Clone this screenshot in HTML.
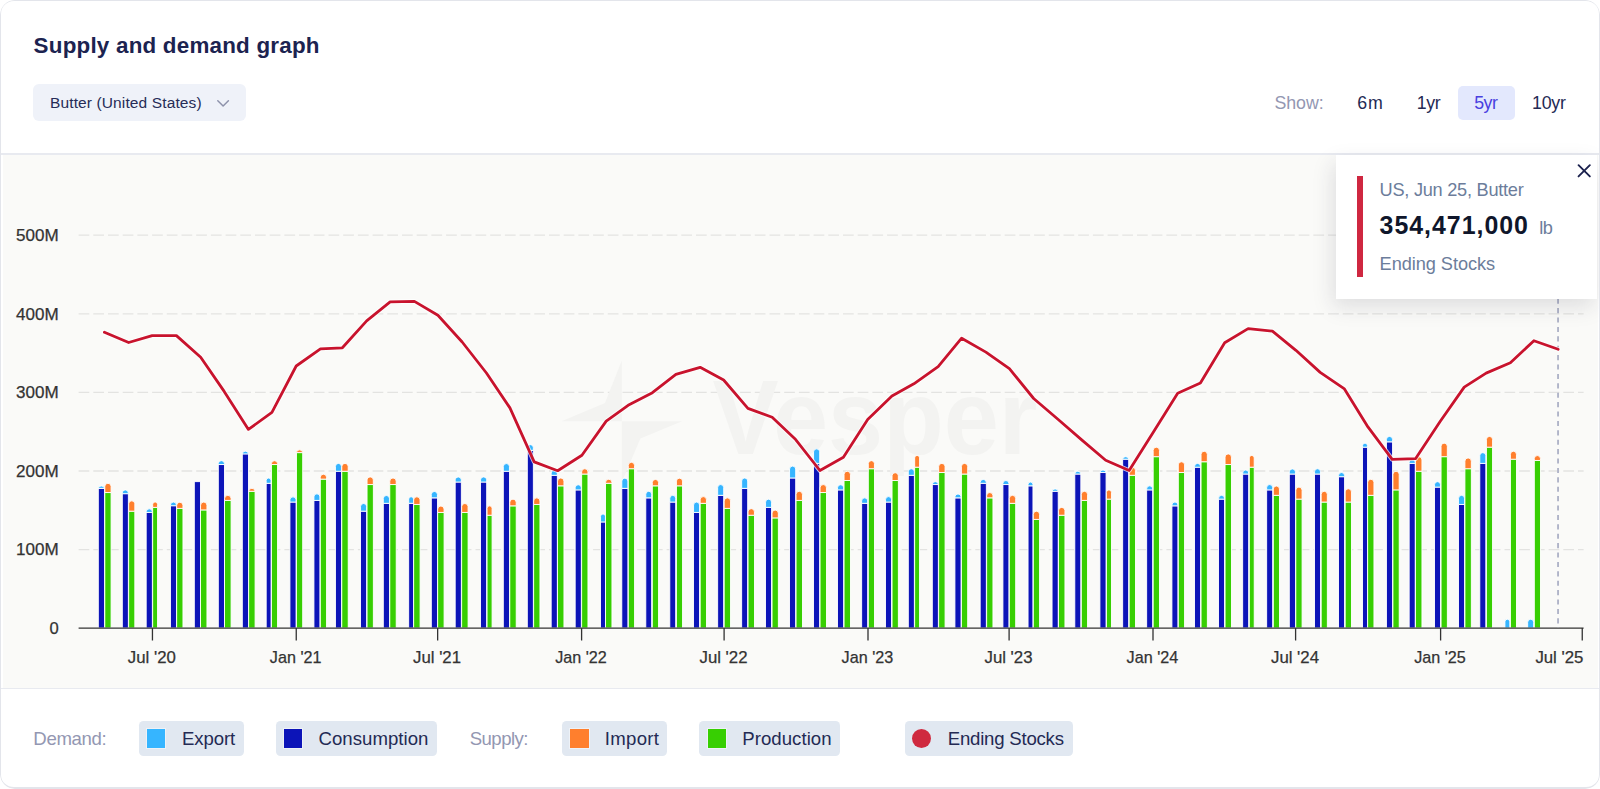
<!DOCTYPE html>
<html lang="en">
<head>
<meta charset="utf-8">
<title>Supply and demand graph</title>
<style>
*{box-sizing:border-box;margin:0;padding:0}
html,body{width:1600px;height:789px;background:#fff;overflow:hidden}
body{font-family:"Liberation Sans",sans-serif;position:relative}
.card{position:absolute;left:0;top:0;width:1600px;height:789px;border-radius:15px;background:#fff;overflow:hidden}
.cardborder{position:absolute;left:0;top:0;width:1600px;height:789px;border:1.2px solid #e3e5eb;border-top-width:1.5px;border-bottom-width:2px;border-radius:14px;pointer-events:none}
.abs{position:absolute}
.t{position:absolute;white-space:nowrap;line-height:normal}
.hdrline{position:absolute;left:0;top:153px;width:1600px;height:1.6px;background:#e8eaf0}
.chartbg{position:absolute;left:3px;top:155px;width:1595px;height:533px;background:#fafaf8}
.ftline{position:absolute;left:0;top:687.6px;width:1600px;height:1.5px;background:#e8eaf0}
.dd{position:absolute;left:33.2px;top:84.4px;width:212.8px;height:36.6px;border-radius:6px;background:#eff2f9}
.range-active{position:absolute;left:1457.6px;top:85.5px;width:57px;height:34px;border-radius:5px;background:#e3e8fd}
.chip{position:absolute;top:721.1px;height:34.6px;border-radius:4.5px;background:#e1e8f1}
.sw{position:absolute;top:729px;width:18.6px;height:18.6px;box-shadow:0 0 0 1px rgba(255,255,255,.45)}
.sw.dot{border-radius:50%;width:19px;height:19px;top:728.8px;box-shadow:none}
.tip{position:absolute;left:1336.3px;top:155px;width:260.7px;height:143.6px;background:#fff;box-shadow:-3px 8px 20px rgba(40,40,60,.13)}
.tipbar{position:absolute;left:1357.4px;top:176px;width:5.4px;height:101.2px;background:#cf2740}
svg{position:absolute;left:0;top:0}
</style>
</head>
<body>
<div class="card">
  <div class="header">
    <div class="dd"></div>
    <svg width="1600" height="153" viewBox="0 0 1600 153"><path d="M217.8 100.8 L223.1 106 L228.4 100.8" fill="none" stroke="#8d92ab" stroke-width="1.5" stroke-linecap="round" stroke-linejoin="round"/></svg>
    <div class="range-active"></div>
<span class="t " style="left:33.6px;top:33px;font-size:22.4px;letter-spacing:0.215px;color:#1c2350;font-weight:700;">Supply and demand graph</span>
<span class="t " style="left:50px;top:94px;font-size:15.5px;letter-spacing:0.122px;color:#262c57;">Butter (United States)</span>
<span class="t " style="left:1274.4px;top:93px;font-size:17.8px;letter-spacing:-0.043px;color:#9397b2;">Show:</span>
<span class="t " style="left:1357.3px;top:93px;font-size:17.8px;letter-spacing:0.772px;color:#242a54;">6m</span>
<span class="t " style="left:1416.8px;top:93px;font-size:17.8px;letter-spacing:-0.464px;color:#242a54;">1yr</span>
<span class="t " style="left:1474.2px;top:93px;font-size:17.8px;letter-spacing:-0.464px;color:#4a3fe0;">5yr</span>
<span class="t " style="left:1532px;top:93px;font-size:17.8px;letter-spacing:-0.209px;color:#242a54;">10yr</span>
  </div>
  <div class="hdrline"></div>
  <div class="chartbg"></div>
  <svg class="chart" width="1600" height="789" viewBox="0 0 1600 789">
<line x1="78.6" x2="1583.6" y1="549.6" y2="549.6" stroke="#e3e3e1" stroke-width="1.3" stroke-dasharray="10.7 4"/>
<line x1="78.6" x2="1583.6" y1="471" y2="471" stroke="#e3e3e1" stroke-width="1.3" stroke-dasharray="10.7 4"/>
<line x1="78.6" x2="1583.6" y1="392.4" y2="392.4" stroke="#e3e3e1" stroke-width="1.3" stroke-dasharray="10.7 4"/>
<line x1="78.6" x2="1583.6" y1="313.8" y2="313.8" stroke="#e3e3e1" stroke-width="1.3" stroke-dasharray="10.7 4"/>
<line x1="78.6" x2="1583.6" y1="235.2" y2="235.2" stroke="#e3e3e1" stroke-width="1.3" stroke-dasharray="10.7 4"/>
<g fill="#f3f3f1"><path d="M621.8 360.4 L621.8 421.2 L561.5 421.2 L605 403 Z"/><path d="M621.8 421.2 L682.1 421.2 L640.4 438.4 L621.8 482 Z"/><text x="712.4" y="453.5" font-family="'Liberation Sans', sans-serif" font-weight="700" font-size="105" textLength="325" lengthAdjust="spacingAndGlyphs">Vesper</text></g>
<g fill="#0c14b8" stroke="#ffffff" stroke-width="0.9"><rect x="98.3" y="488.37" width="6.15" height="139.63"/><rect x="122.3" y="493.69" width="6.03" height="134.31"/><rect x="146.18" y="512.45" width="6.15" height="115.55"/><rect x="170.43" y="505.73" width="6.03" height="122.27"/><rect x="194.3" y="481.65" width="6.15" height="146.35"/><rect x="218.3" y="464.54" width="6.15" height="163.46"/><rect x="242.3" y="453.89" width="6.15" height="174.11"/><rect x="266.18" y="483.3" width="4.9" height="144.7"/><rect x="289.93" y="502.05" width="6.15" height="125.95"/><rect x="313.93" y="500.41" width="6.03" height="127.59"/><rect x="335.43" y="471.26" width="6.03" height="156.74"/><rect x="360.55" y="511.18" width="6.15" height="116.82"/><rect x="383.3" y="503.32" width="6.15" height="124.68"/><rect x="408.68" y="503.32" width="4.9" height="124.68"/><rect x="431.3" y="497.87" width="6.15" height="130.13"/><rect x="455.18" y="482.03" width="6.15" height="145.97"/><rect x="480.55" y="482.03" width="6.15" height="145.97"/><rect x="503.3" y="471.26" width="6.15" height="156.74"/><rect x="527.3" y="450.34" width="6.03" height="177.66"/><rect x="551.17" y="475.31" width="6.15" height="152.69"/><rect x="575.17" y="489.89" width="6.15" height="138.11"/><rect x="600.55" y="521.95" width="4.9" height="106.05"/><rect x="621.8" y="488.37" width="6.15" height="139.63"/><rect x="645.8" y="497.87" width="5.9" height="130.13"/><rect x="669.8" y="502.05" width="5.9" height="125.95"/><rect x="693.55" y="512.45" width="6.03" height="115.55"/><rect x="717.67" y="495.34" width="6.03" height="132.66"/><rect x="741.67" y="488.37" width="6.03" height="139.63"/><rect x="765.55" y="507.38" width="6.03" height="120.62"/><rect x="789.55" y="477.97" width="6.15" height="150.03"/><rect x="813.55" y="463.4" width="6.15" height="164.6"/><rect x="837.55" y="489.89" width="6.15" height="138.11"/><rect x="861.67" y="503.32" width="6.03" height="124.68"/><rect x="885.55" y="502.05" width="6.03" height="125.95"/><rect x="908.3" y="475.31" width="6.03" height="152.69"/><rect x="932.3" y="484.56" width="6.03" height="143.44"/><rect x="954.92" y="497.87" width="6.15" height="130.13"/><rect x="980.17" y="483.3" width="6.15" height="144.7"/><rect x="1002.92" y="484.56" width="6.03" height="143.44"/><rect x="1028.05" y="485.83" width="4.9" height="142.17"/><rect x="1052.05" y="491.28" width="6.15" height="136.72"/><rect x="1074.8" y="474.04" width="6.03" height="153.96"/><rect x="1099.92" y="472.52" width="6.15" height="155.48"/><rect x="1122.67" y="459.21" width="6.03" height="168.79"/><rect x="1146.67" y="489.89" width="6.03" height="138.11"/><rect x="1171.92" y="505.86" width="6.03" height="122.14"/><rect x="1194.55" y="467.2" width="6.03" height="160.8"/><rect x="1218.55" y="499.14" width="6.03" height="128.86"/><rect x="1242.67" y="474.04" width="6.03" height="153.96"/><rect x="1266.67" y="489.89" width="6.03" height="138.11"/><rect x="1289.3" y="474.04" width="6.15" height="153.96"/><rect x="1314.55" y="474.04" width="5.9" height="153.96"/><rect x="1338.55" y="476.71" width="6.03" height="151.29"/><rect x="1362.55" y="447.17" width="4.9" height="180.83"/><rect x="1386.42" y="441.85" width="6.15" height="186.15"/><rect x="1409.17" y="463.4" width="6.03" height="164.6"/><rect x="1434.55" y="487.1" width="5.9" height="140.9"/><rect x="1458.55" y="504.46" width="6.03" height="123.54"/><rect x="1479.8" y="463.4" width="6.03" height="164.6"/></g>
<g fill="#36b5ff" stroke="#ffffff" stroke-width="0.9"><path d="M98.3 488.37A3.08 2.53 0 0 1 104.45 488.37Z"/><path d="M122.3 493.69V492.9A3.01 3.01 0 0 1 128.32 492.9V493.69Z"/><path d="M146.18 512.45V511.72A3.08 3.08 0 0 1 152.33 511.72V512.45Z"/><path d="M170.43 505.73V505.07A3.01 3.01 0 0 1 176.45 505.07V505.73Z"/><path d="M218.3 464.54V463.56A3.08 3.08 0 0 1 224.45 463.56V464.54Z"/><path d="M242.3 453.89A3.08 2.92 0 0 1 248.45 453.89Z"/><path d="M266.18 483.3V480.3A2.45 2.45 0 0 1 271.07 480.3V483.3Z"/><path d="M289.93 502.05V499.68A3.08 3.08 0 0 1 296.07 499.68V502.05Z"/><path d="M313.93 500.41V496.83A3.01 3.01 0 0 1 319.95 496.83V500.41Z"/><path d="M335.43 471.26V466.41A3.01 3.01 0 0 1 341.45 466.41V471.26Z"/><path d="M360.55 511.18V506.4A3.08 3.08 0 0 1 366.7 506.4V511.18Z"/><path d="M383.3 503.32V498.41A3.08 3.08 0 0 1 389.45 498.41V503.32Z"/><path d="M408.68 503.32V499.05A2.45 2.45 0 0 1 413.57 499.05V503.32Z"/><path d="M431.3 497.87V494.36A3.08 3.08 0 0 1 437.45 494.36V497.87Z"/><path d="M455.18 482.03V479.78A3.08 3.08 0 0 1 461.32 479.78V482.03Z"/><path d="M480.55 482.03V479.78A3.08 3.08 0 0 1 486.7 479.78V482.03Z"/><path d="M503.3 471.26V466.47A3.08 3.08 0 0 1 509.45 466.47V471.26Z"/><path d="M527.3 450.34V447.65A3.01 3.01 0 0 1 533.32 447.65V450.34Z"/><path d="M551.17 475.31V473.06A3.08 3.08 0 0 1 557.32 473.06V475.31Z"/><path d="M575.17 489.89V487.64A3.08 3.08 0 0 1 581.32 487.64V489.89Z"/><path d="M600.55 521.95V516.42A2.45 2.45 0 0 1 605.45 516.42V521.95Z"/><path d="M621.8 488.37V481.05A3.08 3.08 0 0 1 627.95 481.05V488.37Z"/><path d="M645.8 497.87V494.23A2.95 2.95 0 0 1 651.7 494.23V497.87Z"/><path d="M669.8 502.05V498.29A2.95 2.95 0 0 1 675.7 498.29V502.05Z"/><path d="M693.55 512.45V505.07A3.01 3.01 0 0 1 699.57 505.07V512.45Z"/><path d="M717.67 495.34V487.58A3.01 3.01 0 0 1 723.7 487.58V495.34Z"/><path d="M741.67 488.37V480.99A3.01 3.01 0 0 1 747.7 480.99V488.37Z"/><path d="M765.55 507.38V502.15A3.01 3.01 0 0 1 771.57 502.15V507.38Z"/><path d="M789.55 477.97V469.01A3.08 3.08 0 0 1 795.7 469.01V477.97Z"/><path d="M813.55 463.4V451.77A3.08 3.08 0 0 1 819.7 451.77V463.4Z"/><path d="M837.55 489.89V487.64A3.08 3.08 0 0 1 843.7 487.64V489.89Z"/><path d="M861.67 503.32V500.88A3.01 3.01 0 0 1 867.7 500.88V503.32Z"/><path d="M885.55 502.05V499.62A3.01 3.01 0 0 1 891.57 499.62V502.05Z"/><path d="M908.3 475.31V471.73A3.01 3.01 0 0 1 914.32 471.73V475.31Z"/><path d="M932.3 484.56A3.01 2.92 0 0 1 938.32 484.56Z"/><path d="M954.92 497.87V496.89A3.08 3.08 0 0 1 961.07 496.89V497.87Z"/><path d="M980.17 483.3V482.32A3.08 3.08 0 0 1 986.32 482.32V483.3Z"/><path d="M1002.92 484.56V483.52A3.01 3.01 0 0 1 1008.95 483.52V484.56Z"/><path d="M1028.05 485.83V484.48A2.45 2.45 0 0 1 1032.95 484.48V485.83Z"/><path d="M1052.05 491.28A3.08 2.53 0 0 1 1058.2 491.28Z"/><path d="M1074.8 474.04A3.01 2.79 0 0 1 1080.83 474.04Z"/><path d="M1099.92 472.52A3.08 2.53 0 0 1 1106.08 472.52Z"/><path d="M1122.67 459.21A3.01 2.53 0 0 1 1128.7 459.21Z"/><path d="M1146.67 489.89V488.84A3.01 3.01 0 0 1 1152.7 488.84V489.89Z"/><path d="M1171.92 505.86V505.07A3.01 3.01 0 0 1 1177.95 505.07V505.86Z"/><path d="M1194.55 467.2V466.41A3.01 3.01 0 0 1 1200.58 466.41V467.2Z"/><path d="M1218.55 499.14V498.35A3.01 3.01 0 0 1 1224.58 498.35V499.14Z"/><path d="M1242.67 474.04V473A3.01 3.01 0 0 1 1248.7 473V474.04Z"/><path d="M1266.67 489.89V487.58A3.01 3.01 0 0 1 1272.7 487.58V489.89Z"/><path d="M1289.3 474.04V471.8A3.08 3.08 0 0 1 1295.45 471.8V474.04Z"/><path d="M1314.55 474.04V471.67A2.95 2.95 0 0 1 1320.45 471.67V474.04Z"/><path d="M1338.55 476.71V475.54A3.01 3.01 0 0 1 1344.58 475.54V476.71Z"/><path d="M1362.55 447.17V445.57A2.45 2.45 0 0 1 1367.45 445.57V447.17Z"/><path d="M1386.42 441.85V439.48A3.08 3.08 0 0 1 1392.58 439.48V441.85Z"/><path d="M1409.17 463.4V462.23A3.01 3.01 0 0 1 1415.2 462.23V463.4Z"/><path d="M1434.55 487.1V484.6A2.95 2.95 0 0 1 1440.45 484.6V487.1Z"/><path d="M1458.55 504.46V498.35A3.01 3.01 0 0 1 1464.58 498.35V504.46Z"/><path d="M1479.8 463.4V455.64A3.01 3.01 0 0 1 1485.83 455.64V463.4Z"/><path d="M1504.92 628V621.7A2.45 2.45 0 0 1 1509.83 621.7V628Z"/><path d="M1527.67 628V622.26A3.01 3.01 0 0 1 1533.7 622.26V628Z"/></g>
<g fill="#37cf02" stroke="#ffffff" stroke-width="0.9"><rect x="104.8" y="492.55" width="6.28" height="135.45"/><rect x="128.68" y="511.18" width="6.15" height="116.82"/><rect x="152.68" y="507.38" width="4.9" height="120.62"/><rect x="176.68" y="508.39" width="6.28" height="119.61"/><rect x="200.55" y="509.91" width="6.4" height="118.09"/><rect x="224.55" y="500.41" width="6.53" height="127.59"/><rect x="248.68" y="491.28" width="6.4" height="136.72"/><rect x="271.43" y="464.54" width="6.15" height="163.46"/><rect x="296.43" y="452.62" width="6.28" height="175.38"/><rect x="320.3" y="479.11" width="6.28" height="148.89"/><rect x="341.8" y="471.26" width="6.4" height="156.74"/><rect x="367.05" y="484.56" width="6.28" height="143.44"/><rect x="389.8" y="484.56" width="6.4" height="143.44"/><rect x="413.68" y="504.46" width="6.4" height="123.54"/><rect x="437.68" y="512.45" width="6.4" height="115.55"/><rect x="461.68" y="512.45" width="6.4" height="115.55"/><rect x="487.05" y="515.24" width="5.03" height="112.76"/><rect x="509.8" y="505.86" width="6.4" height="122.14"/><rect x="533.67" y="504.46" width="6.28" height="123.54"/><rect x="557.55" y="485.83" width="6.4" height="142.17"/><rect x="581.67" y="474.04" width="6.28" height="153.96"/><rect x="605.55" y="483.3" width="6.4" height="144.7"/><rect x="628.3" y="468.72" width="6.28" height="159.28"/><rect x="652.3" y="485.83" width="6.28" height="142.17"/><rect x="676.42" y="485.83" width="6.15" height="142.17"/><rect x="700.17" y="503.32" width="6.28" height="124.68"/><rect x="724.17" y="508.39" width="6.4" height="119.61"/><rect x="748.05" y="515.24" width="6.4" height="112.76"/><rect x="772.05" y="517.9" width="6.28" height="110.1"/><rect x="796.05" y="500.41" width="6.4" height="127.59"/><rect x="820.05" y="492.55" width="6.4" height="135.45"/><rect x="844.05" y="480.51" width="6.4" height="147.49"/><rect x="868.3" y="468.72" width="6.15" height="159.28"/><rect x="892.05" y="480.51" width="6.28" height="147.49"/><rect x="914.67" y="467.2" width="4.9" height="160.8"/><rect x="938.67" y="472.52" width="6.4" height="155.48"/><rect x="961.42" y="474.04" width="6.28" height="153.96"/><rect x="986.67" y="497.87" width="6.28" height="130.13"/><rect x="1009.3" y="503.32" width="6.4" height="124.68"/><rect x="1033.3" y="519.42" width="6.28" height="108.58"/><rect x="1058.55" y="515.24" width="6.4" height="112.76"/><rect x="1081.3" y="500.41" width="6.28" height="127.59"/><rect x="1106.42" y="499.14" width="5.03" height="128.86"/><rect x="1129.17" y="475.31" width="6.28" height="152.69"/><rect x="1153.17" y="456.68" width="6.28" height="171.32"/><rect x="1178.3" y="472.52" width="6.28" height="155.48"/><rect x="1201.05" y="461.75" width="6.28" height="166.25"/><rect x="1225.05" y="464.54" width="6.4" height="163.46"/><rect x="1249.3" y="467.2" width="4.9" height="160.8"/><rect x="1273.3" y="495.34" width="6.15" height="132.66"/><rect x="1295.8" y="499.14" width="6.28" height="128.86"/><rect x="1321.17" y="502.05" width="6.15" height="125.95"/><rect x="1345.17" y="502.05" width="6.28" height="125.95"/><rect x="1367.67" y="495.34" width="6.28" height="132.66"/><rect x="1392.92" y="489.89" width="6.28" height="138.11"/><rect x="1415.55" y="471.26" width="6.4" height="156.74"/><rect x="1441.05" y="456.68" width="6.28" height="171.32"/><rect x="1464.92" y="468.72" width="6.4" height="159.28"/><rect x="1486.42" y="447.17" width="6.15" height="180.83"/><rect x="1510.42" y="459.21" width="6.03" height="168.79"/><rect x="1534.3" y="460.48" width="6.15" height="167.52"/></g>
<g fill="#ff7f2d" stroke="#ffffff" stroke-width="0.9"><path d="M104.8 492.55V486.43A3.14 3.14 0 0 1 111.08 486.43V492.55Z"/><path d="M128.68 511.18V503.73A3.08 3.08 0 0 1 134.83 503.73V511.18Z"/><path d="M152.68 507.38V504.38A2.45 2.45 0 0 1 157.58 504.38V507.38Z"/><path d="M176.68 508.39V505.19A3.14 3.14 0 0 1 182.95 505.19V508.39Z"/><path d="M200.55 509.91V505.25A3.2 3.2 0 0 1 206.95 505.25V509.91Z"/><path d="M224.55 500.41V498.6A3.26 3.26 0 0 1 231.08 498.6V500.41Z"/><path d="M248.68 491.28A3.2 2.92 0 0 1 255.08 491.28Z"/><path d="M271.43 464.54V463.56A3.08 3.08 0 0 1 277.57 463.56V464.54Z"/><path d="M296.43 452.62A3.14 2.92 0 0 1 302.7 452.62Z"/><path d="M320.3 479.11V477.18A3.14 3.14 0 0 1 326.57 477.18V479.11Z"/><path d="M341.8 471.26V466.6A3.2 3.2 0 0 1 348.2 466.6V471.26Z"/><path d="M367.05 484.56V479.84A3.14 3.14 0 0 1 373.32 479.84V484.56Z"/><path d="M389.8 484.56V481.17A3.2 3.2 0 0 1 396.2 481.17V484.56Z"/><path d="M413.68 504.46V499.8A3.2 3.2 0 0 1 420.07 499.8V504.46Z"/><path d="M437.68 512.45V509.06A3.2 3.2 0 0 1 444.07 509.06V512.45Z"/><path d="M461.68 512.45V506.52A3.2 3.2 0 0 1 468.07 506.52V512.45Z"/><path d="M487.05 515.24V508.37A2.51 2.51 0 0 1 492.07 508.37V515.24Z"/><path d="M509.8 505.86V502.34A3.2 3.2 0 0 1 516.2 502.34V505.86Z"/><path d="M533.67 504.46V501.01A3.14 3.14 0 0 1 539.95 501.01V504.46Z"/><path d="M557.55 485.83V481.17A3.2 3.2 0 0 1 563.95 481.17V485.83Z"/><path d="M581.67 474.04V471.86A3.14 3.14 0 0 1 587.95 471.86V474.04Z"/><path d="M605.55 483.3V482.44A3.2 3.2 0 0 1 611.95 482.44V483.3Z"/><path d="M628.3 468.72V465.27A3.14 3.14 0 0 1 634.57 465.27V468.72Z"/><path d="M652.3 485.83V482.38A3.14 3.14 0 0 1 658.57 482.38V485.83Z"/><path d="M676.42 485.83V481.05A3.08 3.08 0 0 1 682.57 481.05V485.83Z"/><path d="M700.17 503.32V499.74A3.14 3.14 0 0 1 706.45 499.74V503.32Z"/><path d="M724.17 508.39V501.07A3.2 3.2 0 0 1 730.57 501.07V508.39Z"/><path d="M748.05 515.24V511.84A3.2 3.2 0 0 1 754.45 511.84V515.24Z"/><path d="M772.05 517.9V513.05A3.14 3.14 0 0 1 778.32 513.05V517.9Z"/><path d="M796.05 500.41V494.48A3.2 3.2 0 0 1 802.45 494.48V500.41Z"/><path d="M820.05 492.55V487.76A3.2 3.2 0 0 1 826.45 487.76V492.55Z"/><path d="M844.05 480.51V474.46A3.2 3.2 0 0 1 850.45 474.46V480.51Z"/><path d="M868.3 468.72V463.56A3.08 3.08 0 0 1 874.45 463.56V468.72Z"/><path d="M892.05 480.51V475.66A3.14 3.14 0 0 1 898.32 475.66V480.51Z"/><path d="M914.67 467.2V457.86A2.45 2.45 0 0 1 919.57 457.86V467.2Z"/><path d="M938.67 472.52V466.6A3.2 3.2 0 0 1 945.07 466.6V472.52Z"/><path d="M961.42 474.04V466.53A3.14 3.14 0 0 1 967.7 466.53V474.04Z"/><path d="M986.67 497.87V495.69A3.14 3.14 0 0 1 992.95 495.69V497.87Z"/><path d="M1009.3 503.32V498.54A3.2 3.2 0 0 1 1015.7 498.54V503.32Z"/><path d="M1033.3 519.42V514.32A3.14 3.14 0 0 1 1039.58 514.32V519.42Z"/><path d="M1058.55 515.24V510.58A3.2 3.2 0 0 1 1064.95 510.58V515.24Z"/><path d="M1081.3 500.41V494.42A3.14 3.14 0 0 1 1087.58 494.42V500.41Z"/><path d="M1106.42 499.14V492.4A2.51 2.51 0 0 1 1111.45 492.4V499.14Z"/><path d="M1129.17 475.31V470.34A3.14 3.14 0 0 1 1135.45 470.34V475.31Z"/><path d="M1153.17 456.68V450.31A3.14 3.14 0 0 1 1159.45 450.31V456.68Z"/><path d="M1178.3 472.52V464.89A3.14 3.14 0 0 1 1184.58 464.89V472.52Z"/><path d="M1201.05 461.75V454.37A3.14 3.14 0 0 1 1207.33 454.37V461.75Z"/><path d="M1225.05 464.54V457.09A3.2 3.2 0 0 1 1231.45 457.09V464.54Z"/><path d="M1249.3 467.2V457.86A2.45 2.45 0 0 1 1254.2 457.86V467.2Z"/><path d="M1273.3 495.34V488.91A3.08 3.08 0 0 1 1279.45 488.91V495.34Z"/><path d="M1295.8 499.14V490.24A3.14 3.14 0 0 1 1302.08 490.24V499.14Z"/><path d="M1321.17 502.05V494.36A3.08 3.08 0 0 1 1327.33 494.36V502.05Z"/><path d="M1345.17 502.05V491.88A3.14 3.14 0 0 1 1351.45 491.88V502.05Z"/><path d="M1367.67 495.34V482.38A3.14 3.14 0 0 1 1373.95 482.38V495.34Z"/><path d="M1392.92 489.89V474.39A3.14 3.14 0 0 1 1399.2 474.39V489.89Z"/><path d="M1415.55 471.26V459.88A3.2 3.2 0 0 1 1421.95 459.88V471.26Z"/><path d="M1441.05 456.68V446.26A3.14 3.14 0 0 1 1447.33 446.26V456.68Z"/><path d="M1464.92 468.72V461.15A3.2 3.2 0 0 1 1471.33 461.15V468.72Z"/><path d="M1486.42 447.17V439.48A3.08 3.08 0 0 1 1492.58 439.48V447.17Z"/><path d="M1510.42 459.21V454.24A3.01 3.01 0 0 1 1516.45 454.24V459.21Z"/><path d="M1534.3 460.48V458.49A3.08 3.08 0 0 1 1540.45 458.49V460.48Z"/></g>
<line x1="78.6" x2="1583.6" y1="628.2" y2="628.2" stroke="#333333" stroke-width="1.3"/>
<path d="M152.45 628.0V640.6M296.25 628.0V640.6M437.65 628.0V640.6M581.6 628.0V640.6M724.1 628.0V640.6M868 628.0V640.6M1009.1 628.0V640.6M1153 628.0V640.6M1295.6 628.0V640.6M1440.6 628.0V640.6M1582.25 628.0V640.6" stroke="#333333" stroke-width="1.3" fill="none"/>
<line x1="1558.05" x2="1558.05" y1="298.7" y2="628.0" stroke="#b0b4c8" stroke-width="1.9" stroke-dasharray="5.1 4.3"/>
<polyline points="104.4,332.3 128.66,342.5 152.15,335.6 176.42,335.6 200.69,357.2 224.17,391.4 248.44,429.4 271.93,412.4 296.2,366 320.46,348.8 342.38,347.8 366.65,320.9 390.14,301.9 414.41,301.4 437.89,315.3 462.16,342 486.43,373 509.92,407.9 534.19,461.9 557.67,470.7 581.94,455.3 606.21,421.1 628.13,405.3 652.4,392.7 675.88,374.4 700.15,367.3 723.64,380 747.91,408.4 772.17,417.3 795.66,439.6 819.93,470.5 843.41,457.3 867.68,419.5 891.95,396 913.87,383.8 938.14,366.6 961.63,338.2 985.89,352.1 1009.38,368.6 1033.65,398.5 1057.92,419.3 1081.4,439.6 1105.67,460.3 1129.16,470.5 1153.43,432 1177.69,393.2 1200.4,383 1224.67,342.7 1248.15,328.6 1272.42,331.1 1295.91,350.3 1320.18,372.4 1344.44,388.9 1367.93,426.9 1392.2,459.3 1415.68,458.6 1439.95,421.8 1464.22,387.1 1486.14,373.1 1510.41,362.7 1533.9,340.7 1558.16,349.3" fill="none" stroke="#ffffff" stroke-opacity="0.75" stroke-width="4.6" stroke-linejoin="round" stroke-linecap="round"/>
<polyline points="104.4,332.3 128.66,342.5 152.15,335.6 176.42,335.6 200.69,357.2 224.17,391.4 248.44,429.4 271.93,412.4 296.2,366 320.46,348.8 342.38,347.8 366.65,320.9 390.14,301.9 414.41,301.4 437.89,315.3 462.16,342 486.43,373 509.92,407.9 534.19,461.9 557.67,470.7 581.94,455.3 606.21,421.1 628.13,405.3 652.4,392.7 675.88,374.4 700.15,367.3 723.64,380 747.91,408.4 772.17,417.3 795.66,439.6 819.93,470.5 843.41,457.3 867.68,419.5 891.95,396 913.87,383.8 938.14,366.6 961.63,338.2 985.89,352.1 1009.38,368.6 1033.65,398.5 1057.92,419.3 1081.4,439.6 1105.67,460.3 1129.16,470.5 1153.43,432 1177.69,393.2 1200.4,383 1224.67,342.7 1248.15,328.6 1272.42,331.1 1295.91,350.3 1320.18,372.4 1344.44,388.9 1367.93,426.9 1392.2,459.3 1415.68,458.6 1439.95,421.8 1464.22,387.1 1486.14,373.1 1510.41,362.7 1533.9,340.7 1558.16,349.3" fill="none" stroke="#c8132d" stroke-width="2.8" stroke-linejoin="round" stroke-linecap="round"/>
<g font-family="'Liberation Sans', sans-serif" font-size="16.6" fill="#333333" stroke="#333333" stroke-width="0.25"><text x="58.7" y="555.45" text-anchor="end" textLength="42.6" lengthAdjust="spacingAndGlyphs">100M</text><text x="58.7" y="476.85" text-anchor="end" textLength="42.6" lengthAdjust="spacingAndGlyphs">200M</text><text x="58.7" y="398.25" text-anchor="end" textLength="42.6" lengthAdjust="spacingAndGlyphs">300M</text><text x="58.7" y="319.65" text-anchor="end" textLength="42.6" lengthAdjust="spacingAndGlyphs">400M</text><text x="58.7" y="241.05" text-anchor="end" textLength="42.6" lengthAdjust="spacingAndGlyphs">500M</text><text x="58.7" y="634.05" text-anchor="end">0</text><text x="151.85" y="663.4" text-anchor="middle" textLength="48.0" lengthAdjust="spacingAndGlyphs">Jul '20</text><text x="295.65" y="663.4" text-anchor="middle" textLength="51.6" lengthAdjust="spacingAndGlyphs">Jan '21</text><text x="437.05" y="663.4" text-anchor="middle" textLength="48.0" lengthAdjust="spacingAndGlyphs">Jul '21</text><text x="581" y="663.4" text-anchor="middle" textLength="51.6" lengthAdjust="spacingAndGlyphs">Jan '22</text><text x="723.5" y="663.4" text-anchor="middle" textLength="48.0" lengthAdjust="spacingAndGlyphs">Jul '22</text><text x="867.4" y="663.4" text-anchor="middle" textLength="51.6" lengthAdjust="spacingAndGlyphs">Jan '23</text><text x="1008.5" y="663.4" text-anchor="middle" textLength="48.0" lengthAdjust="spacingAndGlyphs">Jul '23</text><text x="1152.4" y="663.4" text-anchor="middle" textLength="51.6" lengthAdjust="spacingAndGlyphs">Jan '24</text><text x="1295" y="663.4" text-anchor="middle" textLength="48.0" lengthAdjust="spacingAndGlyphs">Jul '24</text><text x="1440" y="663.4" text-anchor="middle" textLength="51.6" lengthAdjust="spacingAndGlyphs">Jan '25</text><text x="1583.4" y="663.4" text-anchor="end" textLength="48.0" lengthAdjust="spacingAndGlyphs">Jul '25</text></g>
  </svg>
  <div class="ftline"></div>
  <div class="tip"></div>
  <div class="tipbar"></div>
  <svg width="1600" height="300" viewBox="0 0 1600 300"><path d="M1578.55 165.15 L1589.85 176.45 M1589.85 165.15 L1578.55 176.45" fill="none" stroke="#1d234f" stroke-width="1.9" stroke-linecap="round"/></svg>
<span class="t " style="left:1379.6px;top:180px;font-size:18.2px;letter-spacing:-0.260px;color:#6c7d9b;">US, Jun 25, Butter</span>
<span class="t " style="left:1379.6px;top:211px;font-size:24.9px;letter-spacing:0.993px;color:#0f162b;font-weight:700;">354,471,000</span>
<span class="t " style="left:1539.2px;top:218px;font-size:18.2px;letter-spacing:-0.566px;color:#6c7d9b;">lb</span>
<span class="t " style="left:1379.6px;top:254px;font-size:18.2px;letter-spacing:-0.062px;color:#6c7d9b;">Ending Stocks</span>
  <div class="legend">
<div class="chip" style="left:139px;width:104.6px"></div><div class="chip" style="left:275.8px;width:161px"></div><div class="chip" style="left:562px;width:105px"></div><div class="chip" style="left:699.3px;width:141px"></div><div class="chip" style="left:904.7px;width:168.7px"></div><div class="sw" style="left:146.5px;background:#36b5ff"></div><div class="sw" style="left:283.8px;background:#0c14b8"></div><div class="sw" style="left:570.3px;background:#ff7f2d"></div><div class="sw" style="left:707.5px;background:#37cf02"></div><div class="sw dot" style="left:912.4px;background:#cf2a3f"></div>
<span class="t " style="left:33.3px;top:728px;font-size:18.6px;letter-spacing:-0.329px;color:#9397b2;">Demand:</span>
<span class="t " style="left:182px;top:728px;font-size:18.6px;letter-spacing:-0.112px;color:#242a54;">Export</span>
<span class="t " style="left:318.5px;top:728px;font-size:18.6px;letter-spacing:0.030px;color:#242a54;">Consumption</span>
<span class="t " style="left:469.7px;top:728px;font-size:18.6px;letter-spacing:-0.540px;color:#9397b2;">Supply:</span>
<span class="t " style="left:604.8px;top:728px;font-size:18.6px;letter-spacing:0.297px;color:#242a54;">Import</span>
<span class="t " style="left:742.3px;top:728px;font-size:18.6px;letter-spacing:0.042px;color:#242a54;">Production</span>
<span class="t " style="left:947.8px;top:728px;font-size:18.6px;letter-spacing:-0.225px;color:#242a54;">Ending Stocks</span>
  </div>
  <div class="cardborder"></div>
</div>
</body>
</html>
